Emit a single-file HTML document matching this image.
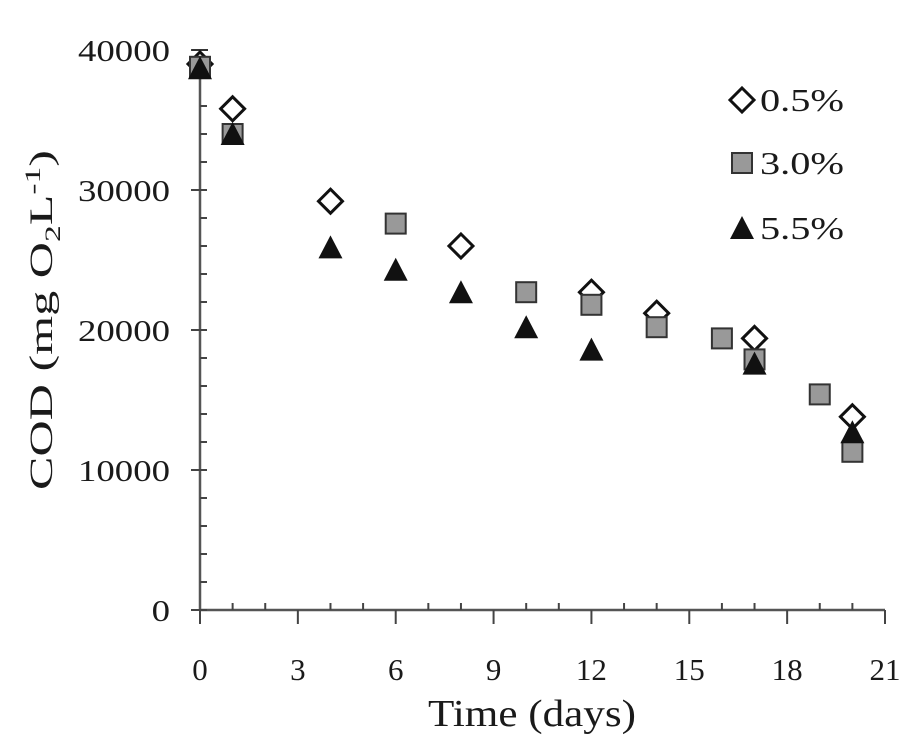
<!DOCTYPE html>
<html><head><meta charset="utf-8"><style>
body{margin:0;background:#fff;}
svg text{font-family:"Liberation Serif",serif;fill:#1a1a1a;}
</style></head><body>
<svg id="chart" width="924" height="745" viewBox="0 0 924 745" xmlns="http://www.w3.org/2000/svg">
<g id="axes"></g>
<g id="marks"></g>
<g id="legend"></g>
<text x="428" y="726" font-size="38" textLength="208" lengthAdjust="spacingAndGlyphs">Time (days)</text>
<text transform="translate(52,490) rotate(-90)" font-size="33" textLength="340" lengthAdjust="spacingAndGlyphs">COD (mg O<tspan font-size="22" dy="8">2</tspan><tspan dy="-8">L</tspan><tspan font-size="22" dy="-12">-1</tspan><tspan dy="12">)</tspan></text>
</svg>
<script>
const xTicks=[0,3,6,9,12,15,18,21];
const yTicks=[0,10000,20000,30000,40000];
const d05x=[0,1,4,8,12,14,17,20];
const d05y=[39000,35800,29200,26000,22700,21200,19400,13800];
const d30x=[0,1,6,10,12,14,16,17,19,20];
const d30y=[38800,34000,27600,22700,21800,20200,19400,17900,15400,11300];
const d55x=[0,1,4,6,8,10,12,17,20];
const d55y=[38700,34000,25900,24300,22700,20200,18600,17600,12700];
const NS="http://www.w3.org/2000/svg";
const X=v=>200+v*(685/21);
const Y=v=>610-v*0.014;
function mk(t,a,p){const e=document.createElementNS(NS,t);for(const k in a)e.setAttribute(k,a[k]);p.appendChild(e);return e;}
const ax=document.getElementById('axes');
let l=mk('line',{x1:X(0),y1:Y(0),x2:X(21),y2:Y(0),stroke:'#555','stroke-width':2.5},ax);


l=mk('line',{x1:X(0),y1:Y(0),x2:X(0),y2:Y(40000),stroke:'#555','stroke-width':2.5},ax);


for(let d=0;d<=21;d++){const maj=d%3===0;mk('line',{x1:X(d),y1:maj?Y(0):Y(0)-7,x2:X(d),y2:maj?Y(0)+14:Y(0),stroke:'#444','stroke-width':2},ax);}
for(let v=0;v<=40000;v+=2000){const maj=v%10000===0;mk('line',{x1:maj?X(0)-9:X(0),y1:Y(v),x2:X(0)+7,y2:Y(v),stroke:'#444','stroke-width':2},ax);}
xTicks.forEach(t=>{const e=mk('text',{x:X(t),y:680,'font-size':31,'text-anchor':'middle'},ax);e.textContent=t;

});
yTicks.forEach(t=>{const w=String(t).length*18.4;const e=mk('text',{x:170-w,y:Y(t)+11,'font-size':31,textLength:w,lengthAdjust:'spacingAndGlyphs'},ax);e.textContent=t;

});
const mg=document.getElementById('marks');
const eb=mk('path',{d:`M${X(0)} ${Y(40000)}V${Y(38000)}M${X(0)-8} ${Y(40000)}H${X(0)+8}`,stroke:'#333','stroke-width':2,fill:'none'},mg);


function sq(x,y,p){return mk('rect',{x:x-10,y:y-10,width:20,height:20,fill:'#999',stroke:'#333','stroke-width':2},p);}
function tri(x,y,p){return mk('path',{d:`M${x} ${y-12}L${x+12} ${y+11}L${x-12} ${y+11}Z`,fill:'#111'},p);}
function dia(x,y,p){return mk('path',{d:`M${x} ${y-12}L${x+12} ${y}L${x} ${y+12}L${x-12} ${y}Z`,fill:'#fff',stroke:'#111','stroke-width':3},p);}
d05x.forEach((d,i)=>{const e=dia(X(d),Y(d05y[i]),mg);

});
d30x.forEach((d,i)=>{const e=sq(X(d),Y(d30y[i]),mg);

});
d55x.forEach((d,i)=>{const e=tri(X(d),Y(d55y[i]),mg);

});
const lg=document.getElementById('legend');
[[dia,'0.5%',100],[sq,'3.0%',163],[tri,'5.5%',228]].forEach(([f,t,y])=>{
const m=f(742,y,lg);


const e=mk('text',{x:760,y:y+11,'font-size':32,textLength:84,lengthAdjust:'spacingAndGlyphs'},lg);e.textContent=t;

});
</script>
</body></html>
